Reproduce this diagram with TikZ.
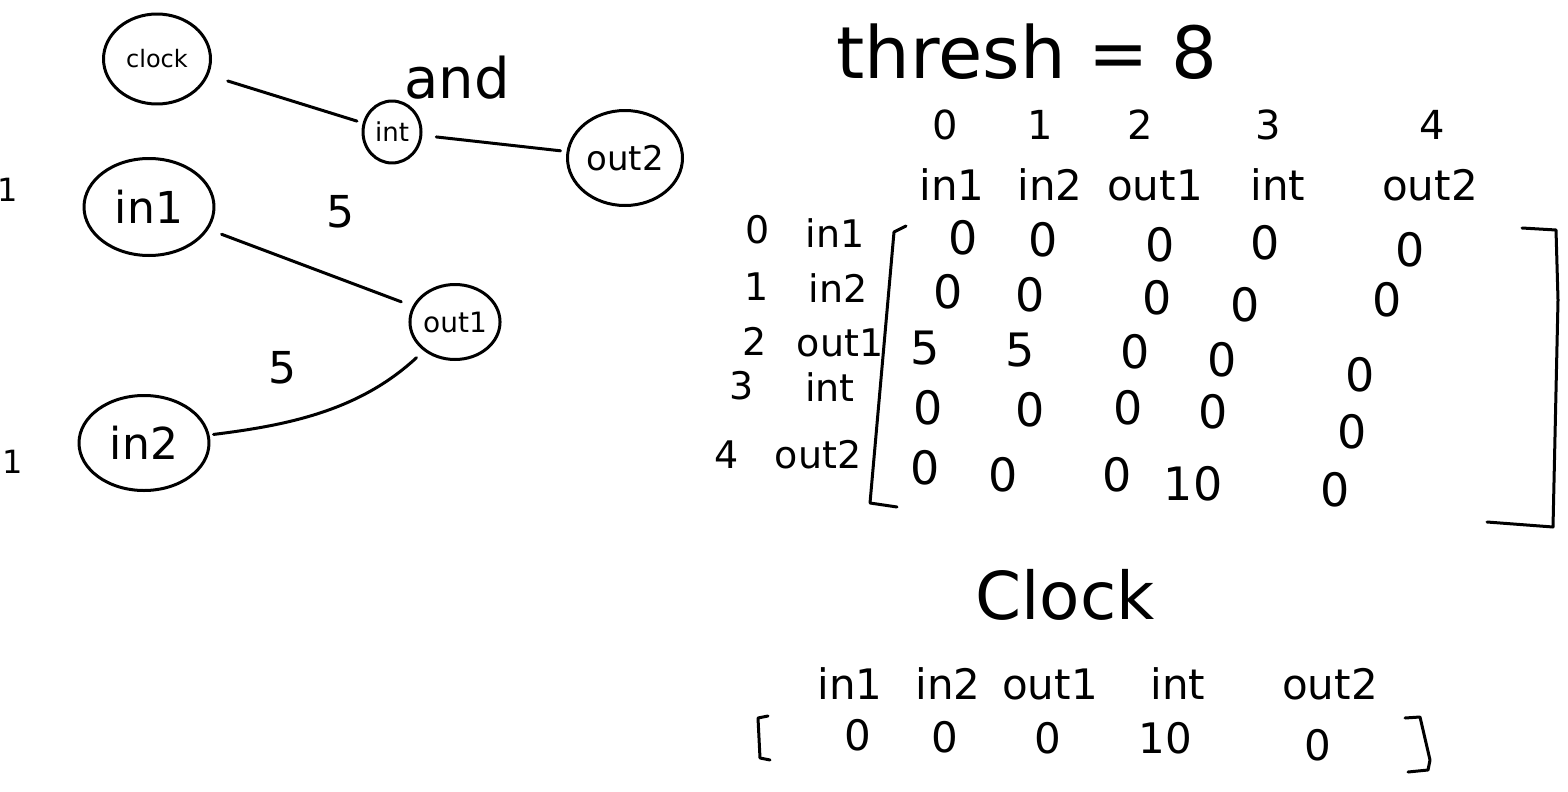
\documentclass[tikz,border=0pt]{standalone}
\usepackage{fontspec}
\setmainfont{DejaVu Sans}
\usetikzlibrary{shapes.geometric}
\tikzset{
  ink/.style={line width=3pt, line cap=round, line join=round},
  gnode/.style={ellipse, draw, ink, inner sep=0pt},
  txt/.style={inner sep=0pt, font=\fontsize{#1}{#1}\selectfont},
  edge/.style={ink},
}
\begin{document}
\begin{tikzpicture}[x=1pt,y=-1pt]
\useasboundingbox (0,0) rectangle (1568,792);
% graph
\node[gnode, minimum width=107pt, minimum height=90pt, txt=24] (clock) at (157,59) {clock};
\node[gnode, minimum width=58pt, minimum height=62pt, txt=26] (int) at (392,132) {int};
\node[gnode, minimum width=115pt, minimum height=95pt, txt=34] (out2) at (625,158) {out2};
\node[gnode, minimum width=130pt, minimum height=97pt, txt=44] (in1) at (149,207) {in1};
\node[gnode, minimum width=90pt, minimum height=75pt, txt=28] (out1) at (455,322) {out1};
\node[gnode, minimum width=130pt, minimum height=95pt, txt=44] (in2) at (144,443) {in2};
\draw[edge, shorten <=20pt, shorten >=6pt] (clock) -- (int);
\draw[edge, shorten <=14pt, shorten >=6pt] (int) -- (out2);
\draw[edge, shorten <=14pt, shorten >=12pt] (in1) -- (out1);
\draw[edge, shorten <=4pt, shorten >=10pt] (in2) .. controls (290,425) and (360,410) .. (out1);
\node[txt=56] (andlbl) at (457,78) {and};
\node[txt=44] (w1) at (340,212) {5};
\node[txt=44] (w2) at (282,368) {5};
\node[txt=32] (b1) at (8,190) {1};
\node[txt=32] (b2) at (13,462) {1};
% threshold
\node[txt=72] (thresh) at (1027,52) {thresh = 8};
% column indices
\foreach \v/\x in {0/945,1/1040,2/1140,3/1268,4/1432}
  \node[txt=40] (ci\v) at (\x,125) {\v};
\foreach \v/\x/\n in {0/952/in1,1/1050/in2,2/1155/out1,3/1278/int,4/1430/out2}
  \node[txt=42] (cn\v) at (\x,185) {\n};
% row labels
\foreach \v/\x/\y in {0/758/230,1/757/287,2/755/341,3/742/386,4/727/455}
  \node[txt=38] (ri\v) at (\x,\y) {\v};
\foreach \v/\x/\y/\n in {0/835/233/in1,1/838/288/in2,2/840/343/out1,3/830/387/int,4/818/455/out2}
  \node[txt=38] (rn\v) at (\x,\y) {\n};
% matrix entries
\foreach \x/\y/\t [count=\i] in {
  963/238/0, 1043/240/0, 1160/245/0, 1265/243/0, 1410/250/0,
  948/292/0, 1030/295/0, 1157/298/0, 1245/305/0, 1387/300/0,
  925/348/5, 1020/350/5, 1135/352/0, 1222/360/0, 1360/375/0,
  928/408/0, 1030/410/0, 1128/408/0, 1213/412/0, 1352/432/0,
  925/468/0, 1003/475/0, 1117/475/0, 1193/484/10, 1335/490/0}
  \node[txt=46] (m\i) at (\x,\y) {\t};
% brackets
\coordinate (lbt) at (906,226);
\coordinate (lbb) at (897,507);
\draw[ink] (lbt) -- (894,232) -- (870,503) -- (lbb);
\coordinate (rbt) at (1522,228);
\coordinate (rbb) at (1487,522);
\draw[ink] (rbt) -- (1556,230) -- (1558,300) -- (1553,527) -- (rbb);
% clock vector
\node[txt=66] (clk) at (1065,595) {Clock};
\foreach \v/\x/\n in {0/850/in1,1/948/in2,2/1050/out1,3/1178/int,4/1330/out2}
  \node[txt=42] (bn\v) at (\x,684) {\n};
\foreach \v/\x/\y/\t in {0/858/735/0,1/945/737/0,2/1048/738/0,3/1165/738/10,4/1318/745/0}
  \node[txt=42] (bv\v) at (\x,\y) {\t};
\coordinate (clt) at (768,716);
\coordinate (clb) at (770,760);
\draw[ink] (clt) -- (758,718) -- (760,758) -- (clb);
\coordinate (crt) at (1405,718);
\coordinate (crb) at (1408,772);
\draw[ink] (crt) -- (1420,717) -- (1430,760) -- (1428,770) -- (crb);
\end{tikzpicture}
\end{document}
